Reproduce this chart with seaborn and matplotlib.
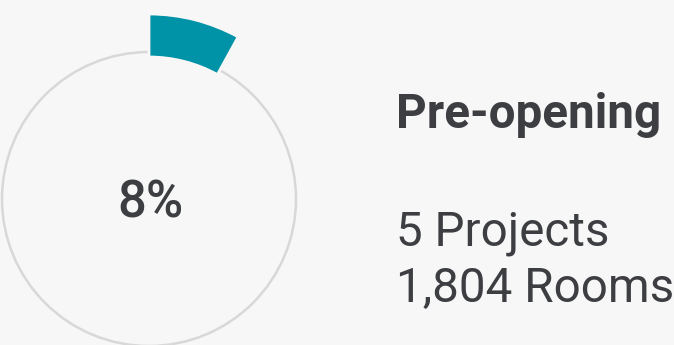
import matplotlib
matplotlib.use("Agg")
import matplotlib.pyplot as plt
from matplotlib.patches import Circle
import seaborn as sns

# Share of the portfolio in the pre-opening stage
share_pct = [8, 92]
center_label = "8%"
stage_title = "Pre-opening"
detail_lines = ["5 Projects", "1,804 Rooms"]

TEAL = "#0092a6"
TEXT = "#3d3e42"
BG = "#f7f7f7"

sns.set_style("white")
plt.rcParams["font.family"] = ["Roboto", "DejaVu Sans"]

fig = plt.figure(figsize=(6.74, 3.45), dpi=100, facecolor=BG)
ax = fig.add_axes([0, 0, 1, 1], facecolor=BG)

cx, cy = 149, 146

# thin full track ring
ax.add_patch(Circle((cx, cy), 147, fill=False, edgecolor="#d8d8d8", linewidth=1.8, zorder=1))

# progress arc: the share wedge in teal, the rest left transparent
wedges, _ = ax.pie(
    share_pct,
    colors=[TEAL, "none"],
    center=(cx, cy),
    radius=185,
    startangle=90,
    counterclock=False,
    wedgeprops=dict(width=43, linewidth=2.0),
)
wedges[0].set_edgecolor(BG)
wedges[0].set_zorder(3)
wedges[1].set_edgecolor("none")

ax.text(cx + 1, 128, center_label, ha="center", va="baseline", fontsize=36.5,
        color=TEXT, fontweight="medium")

ax.text(396, 217, stage_title, ha="left", va="baseline", fontsize=34.3,
        color=TEXT, fontweight="bold")
ax.text(396, 100, detail_lines[0], ha="left", va="baseline", fontsize=34.3, color=TEXT)
ax.text(396, 43, detail_lines[1], ha="left", va="baseline", fontsize=34.3, color=TEXT)

ax.set_xlim(0, 674)
ax.set_ylim(0, 345)
ax.set_aspect("equal", adjustable="box")
ax.axis("off")

fig.savefig("out.png", dpi=100, facecolor=BG)
